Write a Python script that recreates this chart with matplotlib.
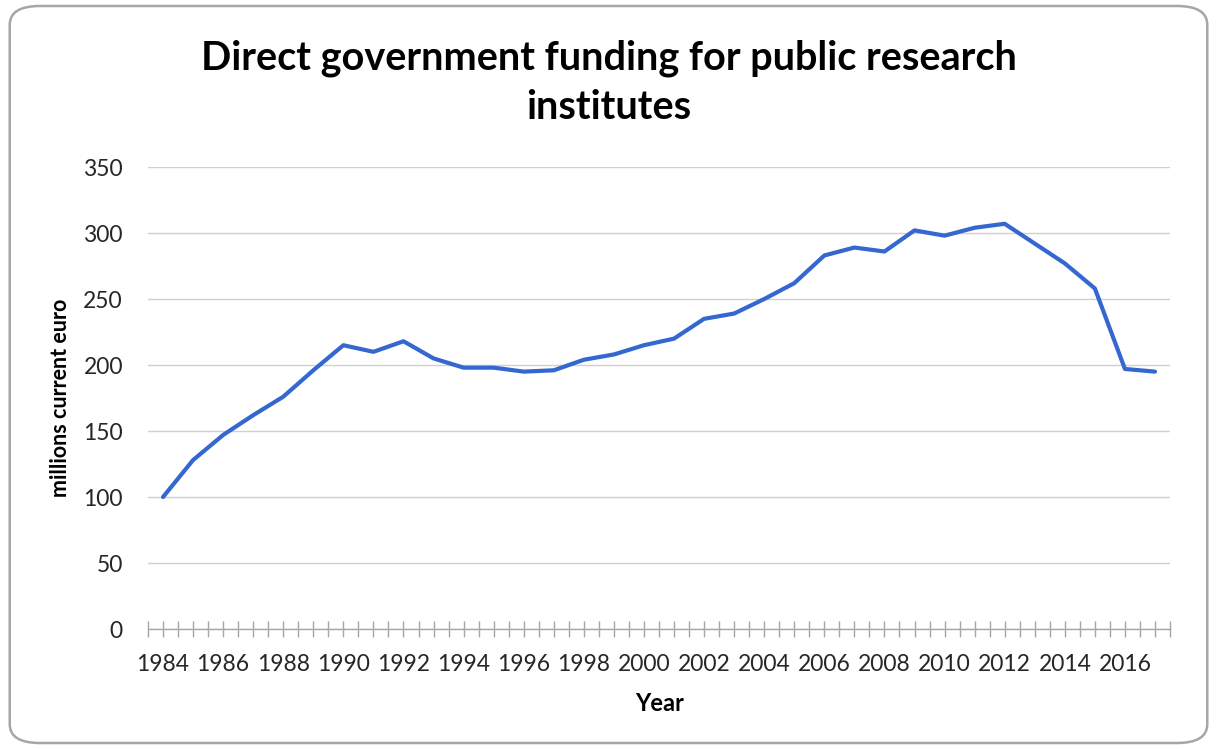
import matplotlib.pyplot as plt
import numpy as np
from matplotlib.patches import FancyBboxPatch

# Direct government funding for public research institutes (millions current euro)
years = list(range(1984, 2018))
funding = [
    100, 128, 147, 162, 176, 196, 215, 210, 218, 205,
    198, 198, 195, 196, 204, 208, 215, 220, 235, 239,
    250, 262, 283, 289, 286, 302, 298, 304, 307, 292,
    277, 258, 197, 195,
]
y_ticks = [0, 50, 100, 150, 200, 250, 300, 350]
x_label_years = list(range(1984, 2017, 2))

plt.rcParams["font.family"] = ["Lato", "DejaVu Sans"]

fig = plt.figure(figsize=(12.17, 7.49), dpi=100)

# rounded chart-area border, kept behind the axes
border = FancyBboxPatch(
    (0.008, 0.008), 0.984, 0.984,
    boxstyle="round,pad=0,rounding_size=0.025",
    transform=fig.transFigure, facecolor="white",
    edgecolor="#A6A6A6", linewidth=1.8, zorder=-5,
)
fig.patches.append(border)

ax = fig.add_axes([0.1216, 0.1602, 0.8398, 0.6168])
ax.set_facecolor("none")

ax.plot(years, funding, color="#3467D0", linewidth=3.0, solid_capstyle="round",
        solid_joinstyle="round", zorder=3)

ax.set_xlim(years[0] - 0.5, years[-1] + 0.5)
ax.set_ylim(0, 350)

ax.set_yticks(y_ticks)
ax.yaxis.grid(True, color="#D0D0D0", linewidth=1.0)
ax.set_axisbelow(True)
ax.tick_params(axis="y", length=0, labelsize=16.5, pad=18, colors="#262626")

# ticks at every category centre and boundary
ax.set_xticks(np.arange(years[0] - 0.5, years[-1] + 0.75, 0.5))
ax.set_xticklabels([])
ax.tick_params(axis="x", direction="inout", length=12, width=1.0, color="#A6A6A6")
for yr in x_label_years:
    ax.text(yr, -0.054, str(yr), transform=ax.get_xaxis_transform(),
            ha="center", va="top", fontsize=16.5, color="#262626")

for side in ["top", "right", "left"]:
    ax.spines[side].set_visible(False)
ax.spines["bottom"].set_color("#A6A6A6")
ax.spines["bottom"].set_linewidth(1.0)

fig.text(0.5, 0.889, "Direct government funding for public research\ninstitutes",
         ha="center", va="center", fontsize=28.5, fontweight="bold",
         linespacing=1.4, color="black")
fig.text(0.0497, 0.4688, "millions current euro", rotation=90, ha="center", va="center",
         fontsize=15.5, fontweight="bold")
fig.text(0.542, 0.0614, "Year", ha="center", va="center", fontsize=17, fontweight="bold")

fig.savefig("out.png", dpi=100)
